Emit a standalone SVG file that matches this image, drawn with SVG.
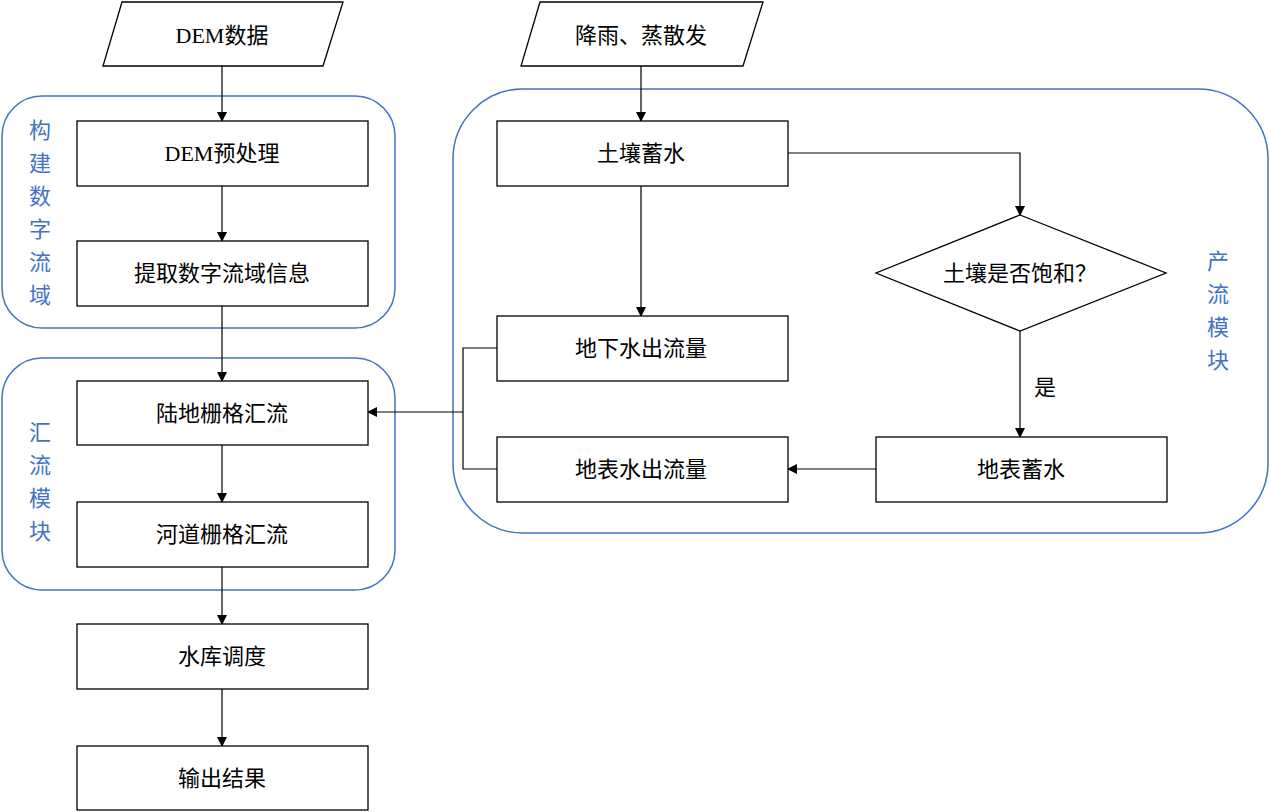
<svg xmlns="http://www.w3.org/2000/svg" width="1270" height="812" viewBox="0 0 1270 812">
<style>
.b{fill:#fff;stroke:#000;stroke-width:1.3}
.g{fill:none;stroke:#4472C4;stroke-width:1.5}
.t{font-family:"Liberation Serif","Noto Sans CJK SC",serif;font-size:22px;text-anchor:middle;dominant-baseline:central;fill:#000}
.gl{font-family:"Liberation Serif","Noto Sans CJK SC",serif;font-size:22px;text-anchor:middle;dominant-baseline:central;fill:#4472C4}
.c{fill:none;stroke:#000;stroke-width:1.2}
</style>
<defs><marker id="a" markerWidth="10" markerHeight="10" refX="9" refY="5" orient="auto" markerUnits="userSpaceOnUse"><path d="M0,0L10,5L0,10z" fill="#000"/></marker></defs>
<rect fill="#fff" width="1270" height="812"/>
<g id="grp1"><rect class="g" x="2" y="96" width="393" height="232" rx="40"/><text class="gl" x="40" y="130">构</text><text class="gl" x="40" y="163">建</text><text class="gl" x="40" y="196">数</text><text class="gl" x="40" y="229">字</text><text class="gl" x="40" y="262">流</text><text class="gl" x="40" y="295">域</text></g>
<g id="grp2"><rect class="g" x="2" y="358" width="393" height="232" rx="40"/><text class="gl" x="40" y="432">汇</text><text class="gl" x="40" y="465">流</text><text class="gl" x="40" y="498">模</text><text class="gl" x="40" y="531">块</text></g>
<g id="grp3"><rect class="g" x="453" y="89" width="815" height="444" rx="70"/><text class="gl" x="1218" y="261">产</text><text class="gl" x="1218" y="294">流</text><text class="gl" x="1218" y="327">模</text><text class="gl" x="1218" y="360">块</text></g>
<g id="connectors">
<path class="c" d="M222,66V121" marker-end="url(#a)"/>
<path class="c" d="M222,186V241" marker-end="url(#a)"/>
<path class="c" d="M222,306V381" marker-end="url(#a)"/>
<path class="c" d="M222,445V502" marker-end="url(#a)"/>
<path class="c" d="M222,567V624" marker-end="url(#a)"/>
<path class="c" d="M222,689V746" marker-end="url(#a)"/>
<path class="c" d="M641,66V121" marker-end="url(#a)"/>
<path class="c" d="M641,186V316" marker-end="url(#a)"/>
<path class="c" d="M788,153H1020V215" marker-end="url(#a)"/>
<path class="c" d="M1020,331V437" marker-end="url(#a)"/>
<path class="c" d="M876,469H788" marker-end="url(#a)"/>
<path class="c" d="M497,348H463V469H497"/>
<path class="c" d="M463,412H368" marker-end="url(#a)"/>
<text class="t" x="1045" y="387">是</text>
</g>
<g id="n1"><polygon class="b" points="122,2 343,2 323,66 103,66"/><text class="t" x="222" y="35">DEM数据</text></g>
<g id="n2"><polygon class="b" points="540,2 763,2 743,66 521,66"/><text class="t" x="641" y="35">降雨、蒸散发</text></g>
<g id="n3"><rect class="b" x="77" y="121" width="291" height="65"/><text class="t" x="222" y="153">DEM预处理</text></g>
<g id="n4"><rect class="b" x="77" y="241" width="291" height="65"/><text class="t" x="222" y="273">提取数字流域信息</text></g>
<g id="n5"><rect class="b" x="77" y="381" width="291" height="64"/><text class="t" x="222" y="413">陆地栅格汇流</text></g>
<g id="n6"><rect class="b" x="77" y="502" width="291" height="65"/><text class="t" x="222" y="534">河道栅格汇流</text></g>
<g id="n7"><rect class="b" x="77" y="624" width="291" height="65"/><text class="t" x="222" y="656">水库调度</text></g>
<g id="n8"><rect class="b" x="77" y="746" width="291" height="64"/><text class="t" x="222" y="778">输出结果</text></g>
<g id="n9"><rect class="b" x="497" y="121" width="291" height="65"/><text class="t" x="641" y="153">土壤蓄水</text></g>
<g id="n10"><rect class="b" x="497" y="316" width="291" height="65"/><text class="t" x="641" y="348">地下水出流量</text></g>
<g id="n11"><rect class="b" x="497" y="437" width="291" height="65"/><text class="t" x="641" y="469">地表水出流量</text></g>
<g id="n12"><polygon class="b" points="1020,215 1166,273 1020,331 876,273"/><text class="t" x="1020" y="273">土壤是否饱和？</text></g>
<g id="n13"><rect class="b" x="876" y="437" width="291" height="65"/><text class="t" x="1021" y="469">地表蓄水</text></g>
</svg>
